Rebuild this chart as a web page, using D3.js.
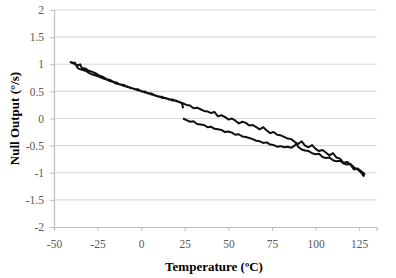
<!DOCTYPE html>
<html>
<head>
<meta charset="utf-8">
<script src="https://cdn.jsdelivr.net/npm/d3@7"></script>
<style>
  body { margin: 0; background: #fff; }
  svg text { font-family: "Liberation Serif", "DejaVu Serif", serif; }
</style>
</head>
<body>
<div id="chart"></div>
<script>
// heating leg: 25 C up to 127 C
const heatTemp = [24,26,28,30,32,34,36,38,40,42,44,46,48,50,52,54,56,58,60,62,64,66,68,70,72,74,76,78,80,82,84,86,88,89,90,92,94,96,98,100,102,104,106,108,110,112,114,116,118,120,122,124,126,127.5];
const heatOut = [0.00,-0.03,-0.06,-0.05,-0.10,-0.11,-0.12,-0.16,-0.15,-0.19,-0.20,-0.21,-0.25,-0.24,-0.26,-0.30,-0.29,-0.33,-0.34,-0.36,-0.38,-0.41,-0.42,-0.45,-0.44,-0.48,-0.49,-0.52,-0.51,-0.53,-0.52,-0.54,-0.50,-0.46,-0.52,-0.57,-0.59,-0.60,-0.64,-0.66,-0.65,-0.71,-0.73,-0.72,-0.77,-0.79,-0.78,-0.83,-0.85,-0.84,-0.90,-0.94,-0.99,-1.06];

// cooling leg: 127 C down to -40 C
const coolTemp = [128,126,124,122,120,118,116,114,112,110,108,106,104,102,100,98,96,94,92,90,88,86,84,82,80,78,76,74,72,70,68,66,64,62,60,58,56,54,52,50,48,46,44,42,40,38,36,34,32,30,28,26,24,22,20,18,16,14,12,10,8,6,4,2,0,-2,-4,-6,-8,-10,-12,-14,-16,-18,-20,-22,-24,-26,-28,-30,-32,-34,-36,-37,-38,-39.5,-40.5];
const coolOut = [-1.02,-0.97,-0.92,-0.94,-0.85,-0.80,-0.82,-0.74,-0.72,-0.64,-0.68,-0.63,-0.58,-0.60,-0.56,-0.49,-0.53,-0.50,-0.42,-0.47,-0.43,-0.38,-0.37,-0.34,-0.31,-0.30,-0.25,-0.27,-0.22,-0.16,-0.20,-0.16,-0.12,-0.13,-0.08,-0.06,-0.09,-0.04,0.00,-0.02,0.03,0.06,0.04,0.12,0.10,0.13,0.14,0.17,0.20,0.19,0.24,0.25,0.28,0.30,0.33,0.33,0.36,0.37,0.40,0.40,0.43,0.44,0.47,0.48,0.51,0.52,0.55,0.56,0.59,0.60,0.63,0.64,0.67,0.69,0.72,0.74,0.77,0.79,0.81,0.84,0.88,0.90,0.92,0.96,1.03,1.02,1.04];

// return leg: -40 C back to 25 C
const backTemp = [-40.5,-39,-38,-36,-35,-34,-32,-30,-28,-26,-24,-22,-20,-18,-16,-14,-12,-10,-8,-6,-4,-2,0,2,4,6,8,10,12,14,16,18,20,22,23.5,24];
const backOut = [1.04,1.03,1.00,0.98,1.00,0.93,0.92,0.88,0.86,0.83,0.79,0.77,0.73,0.71,0.68,0.66,0.62,0.62,0.58,0.57,0.54,0.54,0.50,0.50,0.46,0.46,0.42,0.41,0.38,0.38,0.35,0.35,0.32,0.31,0.27,0.19];

const xTicks = [-50,-25,0,25,50,75,100,125];
const yTicks = [-2,-1.5,-1,-0.5,0,0.5,1,1.5,2];

const W = 396, H = 278;
const svg = d3.select("#chart").append("svg")
  .attr("width", W)
  .attr("height", H);

const x = d3.scaleLinear().domain([-50, 135]).range([54, 376.6]);
const y = d3.scaleLinear().domain([-2, 2]).range([227, 10]);

// gridlines
svg.append("g").selectAll("line").data(yTicks.filter(d => d > -2))
  .enter().append("line")
    .attr("x1", x(-50)).attr("x2", x(135))
    .attr("y1", d => y(d)).attr("y2", d => y(d))
    .attr("stroke", "#d9d9d9")
    .attr("stroke-width", 1.2);

// axes
const xAxis = svg.append("g")
  .attr("transform", "translate(0," + y(-2) + ")")
  .call(d3.axisBottom(x).tickValues(xTicks).tickSize(4).tickPadding(9).tickFormat(d => String(d)));
const yAxis = svg.append("g")
  .attr("transform", "translate(" + x(-50) + ",0)")
  .call(d3.axisLeft(y).tickValues(yTicks).tickSize(4).tickPadding(6).tickFormat(d => String(d)));

[xAxis, yAxis].forEach(a => {
  a.select(".domain").attr("stroke", "#bfbfbf").attr("stroke-width", 1.2);
  a.selectAll(".tick line").attr("stroke", "#bfbfbf");
  a.selectAll(".tick text")
    .attr("fill", "#595959")
    .style("font-size", "11.5px")
    .style("font-family", "Liberation Serif, serif");
});
xAxis.select(".tick line").attr("stroke", "none");

// the measured trace, one continuous temperature cycle
const pts = [];
heatTemp.forEach((t, i) => pts.push([t, heatOut[i]]));
coolTemp.forEach((t, i) => pts.push([t, coolOut[i]]));
backTemp.forEach((t, i) => pts.push([t, backOut[i]]));

const line = d3.line()
  .x(d => x(d[0]))
  .y(d => y(d[1]));

svg.append("path")
  .datum(pts)
  .attr("d", line)
  .attr("fill", "none")
  .attr("stroke", "#111")
  .attr("stroke-width", 2)
  .attr("stroke-linejoin", "round");

// titles
svg.append("text")
  .attr("transform", "translate(19," + y(0) + ") rotate(-90)")
  .attr("text-anchor", "middle")
  .style("font-size", "13px")
  .style("font-weight", "bold")
  .text("Null Output (°/s)");

svg.append("text")
  .attr("x", 214)
  .attr("y", 271)
  .attr("text-anchor", "middle")
  .style("font-size", "13px")
  .style("font-weight", "bold")
  .text("Temperature (ºC)");
</script>
</body>
</html>
